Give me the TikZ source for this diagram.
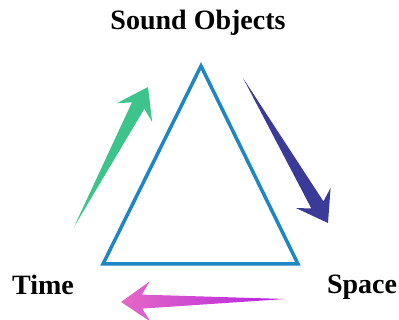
\documentclass[tikz,border=0pt]{standalone}
\usepackage{fontspec}
\setmainfont{Liberation Serif}
\usepackage{tikz}
\usetikzlibrary{calc}
\definecolor{triblue}{HTML}{1F86C4}
\definecolor{arrgreen}{HTML}{3CC48B}
\definecolor{arrindigo}{HTML}{3A3A98}
\definecolor{arrpink}{HTML}{E468C6}
\definecolor{arrviolet}{HTML}{B422E0}
\tikzset{
  lbl/.style={font=\fontsize{28}{30}\selectfont\bfseries, inner sep=0pt},
  tri/.style={draw=triblue, line width=3.5pt, line join=miter},
}
% tapered arrow: style, tail, tip
\newcommand{\slimarrow}[3]{%
  \path[#1] (#2)
    -- ($(#3)!21pt!(#2)!7pt!90:(#2)$)
    -- ($(#3)!29pt!(#2)!20pt!90:(#2)$)
    -- (#3)
    -- ($(#3)!29pt!(#2)!20pt!-90:(#2)$)
    -- ($(#3)!21pt!(#2)!7pt!-90:(#2)$)
    -- cycle;}

\begin{document}
\begin{tikzpicture}[x=1pt, y=1pt]
  \useasboundingbox (0,0) rectangle (399,320);

  % labels
  \node[lbl] (sound) at (198,297) {Sound Objects};
  \node[lbl] (time) at (43,35) {Time};
  \node[lbl] (space) at (362,33) {Space};

  % triangle
  \coordinate (top) at (201,254);
  \coordinate (left) at (103,56);
  \coordinate (right) at (298,56);
  \draw[tri] (top) -- (left) -- (right) -- cycle;

  % arrows
  \coordinate (gtail) at (74,93);
  \coordinate (gtip) at (148,233);
  \coordinate (btail) at (243,242);
  \coordinate (btip) at (328,97);
  \coordinate (ptail) at (285,21);
  \coordinate (ptip) at (121,18);
  \slimarrow{fill=arrgreen}{gtail}{gtip}
  \slimarrow{fill=arrindigo}{btail}{btip}
  \slimarrow{left color=arrpink, right color=arrviolet}{ptail}{ptip}
\end{tikzpicture}
\end{document}
